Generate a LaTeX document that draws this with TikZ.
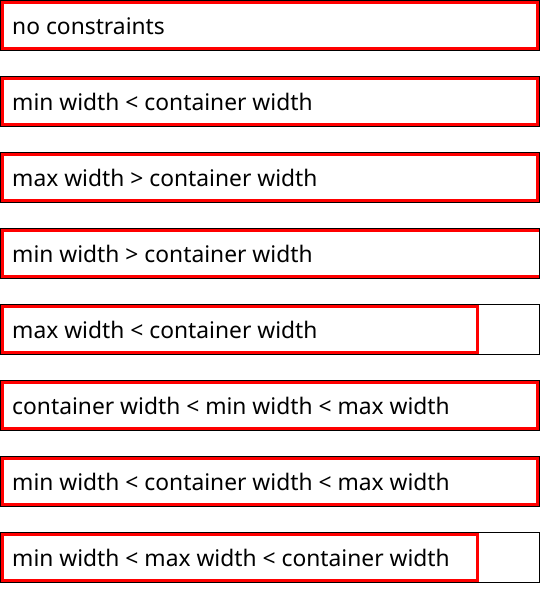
\documentclass[tikz,border=0pt]{standalone}
\usepackage{fontspec}
\setmainfont{Noto Sans}
\begin{document}
\begin{tikzpicture}[x=1pt,y=-1pt,
  container/.style={draw=black,line width=1pt},
  item/.style={draw=red,line width=3pt},
  lbl/.style={anchor=base west,inner sep=0pt,font=\fontsize{22.8}{27}\selectfont}]
\useasboundingbox (0,0) rectangle (540,608);
\begin{scope}
\clip (0,0) rectangle (540,608);
\foreach \i/\w/\t in {0/539/no constraints,
  1/539/min width < container width,
  2/539/max width > container width,
  3/620/min width > container width,
  4/479/max width < container width,
  5/539/container width < min width < max width,
  6/539/min width < container width < max width,
  7/479/min width < max width < container width}{
  \pgfmathsetmacro{\top}{76*\i}
  \draw[item] (2.5,\top+2.5) rectangle (\w-1.5,\top+48.5);
  \draw[container] (0.5,\top+0.5) rectangle (539.5,\top+50.5);
  \node[lbl] (t\i) at (12,\top+34) {\t};
}
\end{scope}
\end{tikzpicture}
\end{document}
